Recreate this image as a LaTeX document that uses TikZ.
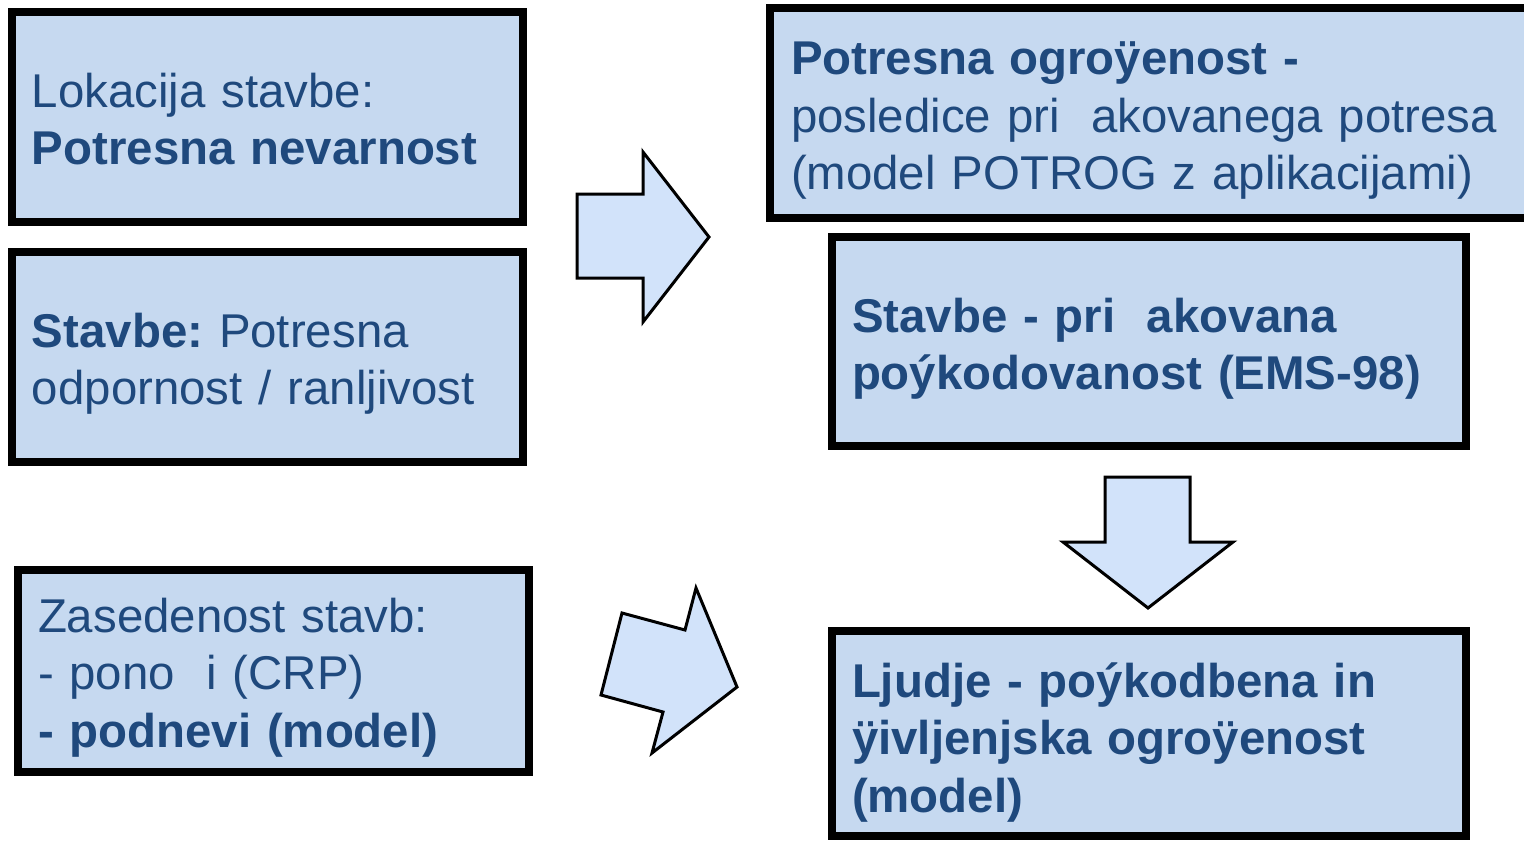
\documentclass[tikz,border=0pt]{standalone}
\usepackage{fontspec}
\setmainfont{Liberation Sans}
\frenchspacing
\usetikzlibrary{positioning}
\definecolor{textblue}{RGB}{31,73,125}
\definecolor{boxfill}{RGB}{198,217,240}
\definecolor{arrowfill}{RGB}{210,227,250}
\tikzset{Box/.style={
    draw=black,
    line width=4pt,
    fill=boxfill,
    text=textblue,
    align=left,
    inner xsep=10pt,
    inner ysep=0pt,
    font=\fontsize{23.7}{28.75}\selectfont,
    }
}
\tikzset{BlockArrow/.style={
    draw=black,
    line width=1.5pt,
    line join=miter,
    fill=arrowfill,
    }
}

\begin{document}
\begin{tikzpicture}[x=0.5pt,y=-0.5pt]
\useasboundingbox (0,0) rectangle (1524,840);
\clip (0,0) rectangle (1524,840);
% left column
\node [Box,minimum width=255.5pt,text width=235.5pt,text height=47.5pt,text depth=57.5pt] (lokacija) at (267.5,117)
  {Lokacija stavbe:\\ \textbf{Potresna nevarnost}};
\node [Box,minimum width=255.5pt,text width=235.5pt,text height=47.5pt,text depth=57.5pt] (stavbe) at (267.5,357)
  {\textbf{Stavbe:} Potresna\\ odpornost / ranljivost};
\node [Box,minimum width=255.5pt,text width=235.5pt,text height=31pt,text depth=70pt] (zasedenost) at (273.5,671)
  {Zasedenost stavb:\\ - pono\ \ i (CRP)\\ \textbf{- podnevi (model)}};
% right column
\node [Box,minimum width=380pt,text width=359pt,inner xsep=10.5pt,text height=33.5pt,text depth=71.5pt] (ogrozenost) at (1150,113)
  {\textbf{Potresna ogroÿenost -}\\ posledice pri\ \ akovanega potresa\\ (model POTROG z aplikacijami)};
\node [Box,minimum width=317pt,text width=297pt,text height=47.5pt,text depth=57pt] (poskodovanost) at (1149,341.5)
  {\textbf{Stavbe - pri\ \ akovana}\\ \textbf{poýkodovanost (EMS-98)}};
\node [Box,minimum width=317pt,text width=297pt,text height=33pt,text depth=69.5pt] (ljudje) at (1149,733.5)
  {\textbf{Ljudje - poýkodbena in}\\ \textbf{ÿivljenjska ogroÿenost}\\ \textbf{(model)}};
% block arrows
\draw [BlockArrow] (577,194) -- (643,194) -- (643,152) -- (709,237) -- (643,322)
  -- (643,278) -- (577,278) -- cycle;
\draw [BlockArrow] (1105,477) -- (1190,477) -- (1190,542) -- (1233,542) -- (1148,608)
  -- (1063,542) -- (1105,542) -- cycle;
\draw [BlockArrow] (622,613) -- (685,630) -- (696,588) -- (737,687) -- (652,753)
  -- (663,712) -- (601,695) -- cycle;
\end{tikzpicture}
\end{document}
